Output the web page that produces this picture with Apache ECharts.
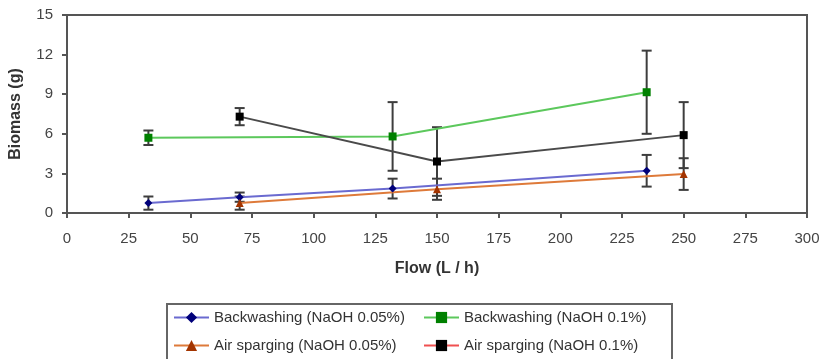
<!DOCTYPE html>
<html>
<head>
<meta charset="utf-8">
<script src="https://cdn.jsdelivr.net/npm/echarts@6/dist/echarts.min.js"></script>
<style>html,body{margin:0;padding:0;background:#fff}#c{width:819px;height:359px}</style>
</head>
<body>
<div id="c"></div>
<script>
const seriesNames = ['Backwashing (NaOH 0.05%)', 'Backwashing (NaOH 0.1%)', 'Air sparging (NaOH 0.05%)', 'Air sparging (NaOH 0.1%)'];
const flowBW005 = [33, 70, 132, 235];
const biomassBW005 = [0.75, 1.2, 1.85, 3.2];
const errBW005 = [0.5, 0.35, 0.75, 1.2];
const flowBW01 = [33, 132, 235];
const biomassBW01 = [5.7, 5.8, 9.15];
const errBW01 = [0.55, 2.6, 3.15];
const flowAS005 = [70, 150, 250];
const biomassAS005 = [0.75, 1.8, 2.95];
const errAS005 = [0.5, 0.8, 1.2];
const flowAS01 = [70, 150, 250];
const biomassAS01 = [7.3, 3.9, 5.9];
const errAS01 = [0.65, 2.6, 2.5];

const FONT = '"Liberation Sans", Arial, sans-serif';
const pts = (xs, ys) => xs.map((x, i) => [x, ys[i]]);
const errPts = (xs, ys, es) => xs.map((x, i) => [x, ys[i], es[i]]);

function errRender(params, api) {
  const x = api.value(0), y = api.value(1), e = api.value(2);
  const t = api.coord([x, y + e]);
  const b = api.coord([x, y - e]);
  const w = 5;
  const st = {stroke: '#3d3d3d', lineWidth: 2};
  return {type: 'group', children: [
    {type: 'line', shape: {x1: t[0], y1: t[1], x2: b[0], y2: b[1]}, style: st},
    {type: 'line', shape: {x1: t[0] - w, y1: t[1], x2: t[0] + w, y2: t[1]}, style: st},
    {type: 'line', shape: {x1: b[0] - w, y1: b[1], x2: b[0] + w, y2: b[1]}, style: st}
  ]};
}

const colors = {
  bw005: {line: '#6a6ad0', mark: '#00007a'},
  bw01: {line: '#5cc85c', mark: '#008000'},
  as005: {line: '#de7a3a', mark: '#a33400'},
  as01: {line: '#4a4a4a', mark: '#000000'}
};

const legendText = {fontFamily: FONT, fontSize: 15, color: '#333'};
function oneLegend(left, top, item) {
  return {orient: 'horizontal', left: left, top: top, itemWidth: 35, itemHeight: 14, padding: 0,
          textStyle: legendText, data: [item], selectedMode: false};
}

const chart = echarts.init(document.getElementById('c'), null, {renderer: 'canvas'});
chart.setOption({
  animation: false,
  textStyle: {fontFamily: FONT},
  grid: {left: 67, right: 12, top: 15, bottom: 146, outerBoundsMode: 'none', containLabel: false,
         show: true, borderColor: '#555', borderWidth: 2, backgroundColor: '#fff'},
  xAxis: {
    type: 'value', min: 0, max: 300, interval: 25,
    name: 'Flow (L / h)', nameLocation: 'middle', nameGap: 48,
    nameTextStyle: {fontFamily: FONT, fontSize: 16, fontWeight: 'bold', color: '#333'},
    axisLine: {show: true, lineStyle: {color: '#555', width: 2}},
    axisTick: {show: true, length: 5, lineStyle: {color: '#555', width: 2}},
    axisLabel: {fontFamily: FONT, fontSize: 15, color: '#444', margin: 18},
    splitLine: {show: false}
  },
  yAxis: {
    type: 'value', min: 0, max: 15, interval: 3,
    name: 'Biomass (g)', nameLocation: 'middle', nameGap: 43, nameRotate: 90,
    nameTextStyle: {fontFamily: FONT, fontSize: 16, fontWeight: 'bold', color: '#333'},
    axisLine: {show: true, lineStyle: {color: '#555', width: 2}},
    axisTick: {show: true, length: 5, lineStyle: {color: '#555', width: 2}},
    axisLabel: {fontFamily: FONT, fontSize: 15, color: '#444', margin: 14},
    splitLine: {show: false}
  },
  legend: [
    oneLegend(173, 310, {name: seriesNames[0]}),
    oneLegend(423, 310, {name: seriesNames[1]}),
    oneLegend(173, 338, {name: seriesNames[2]}),
    oneLegend(423, 338, {name: seriesNames[3], lineStyle: {color: '#f05050'}})
  ],
  graphic: [{
    type: 'rect', left: 166, top: 303, z: -1,
    shape: {width: 505, height: 70},
    style: {fill: '#fff', stroke: '#666', lineWidth: 2}
  }],
  series: [
    {type: 'custom', name: 'e1', renderItem: errRender, data: errPts(flowBW005, biomassBW005, errBW005), z: 1},
    {type: 'custom', name: 'e2', renderItem: errRender, data: errPts(flowBW01, biomassBW01, errBW01), z: 1},
    {type: 'custom', name: 'e3', renderItem: errRender, data: errPts(flowAS005, biomassAS005, errAS005), z: 1},
    {type: 'custom', name: 'e4', renderItem: errRender, data: errPts(flowAS01, biomassAS01, errAS01), z: 1},
    {
      type: 'line', name: seriesNames[0], data: pts(flowBW005, biomassBW005), z: 3,
      symbol: 'diamond', symbolSize: 8,
      lineStyle: {color: colors.bw005.line, width: 2},
      itemStyle: {color: colors.bw005.mark, borderWidth: 0}
    },
    {
      type: 'line', name: seriesNames[1], data: pts(flowBW01, biomassBW01), z: 3,
      symbol: 'rect', symbolSize: 8,
      lineStyle: {color: colors.bw01.line, width: 2},
      itemStyle: {color: colors.bw01.mark, borderWidth: 0}
    },
    {
      type: 'line', name: seriesNames[2], data: pts(flowAS005, biomassAS005), z: 3,
      symbol: 'triangle', symbolSize: 8,
      lineStyle: {color: colors.as005.line, width: 2},
      itemStyle: {color: colors.as005.mark, borderWidth: 0}
    },
    {
      type: 'line', name: seriesNames[3], data: pts(flowAS01, biomassAS01), z: 3,
      symbol: 'rect', symbolSize: 8,
      lineStyle: {color: colors.as01.line, width: 2},
      itemStyle: {color: colors.as01.mark, borderWidth: 0}
    }
  ]
});
</script>
</body>
</html>
